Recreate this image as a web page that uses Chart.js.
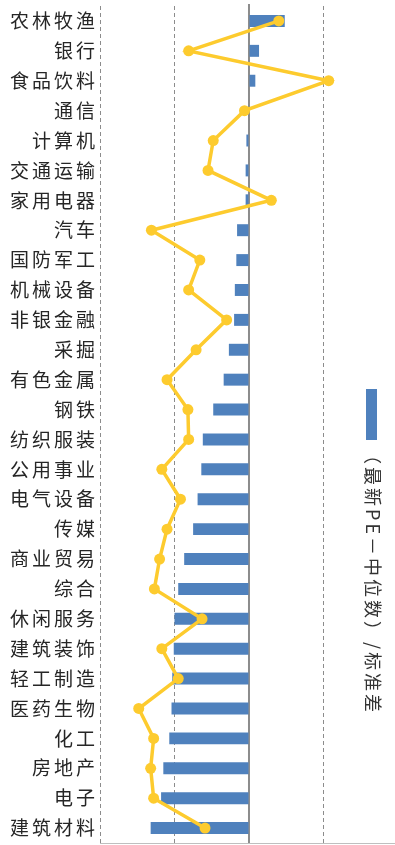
<!DOCTYPE html>
<html>
<head>
<meta charset="utf-8">
<script src="https://cdn.jsdelivr.net/npm/chart.js@4/dist/chart.umd.min.js"></script>
<style>
  html, body { margin: 0; padding: 0; background: #fff; }
  #wrap { width: 395px; height: 845px; }
</style>
</head>
<body>
<div id="wrap"><canvas id="peChart"></canvas></div>
<script>
const industries = [
  "农林牧渔", "银行", "食品饮料", "通信", "计算机", "交通运输", "家用电器",
  "汽车", "国防军工", "机械设备", "非银金融", "采掘", "有色金属", "钢铁",
  "纺织服装", "公用事业", "电气设备", "传媒", "商业贸易", "综合", "休闲服务",
  "建筑装饰", "轻工制造", "医药生物", "化工", "房地产", "电子", "建筑材料"
];
// (latest PE - median) / std, bars
const peDeviation = [
  0.48, 0.135, 0.085, -0.01, -0.035, -0.045, -0.045,
  -0.16, -0.17, -0.19, -0.2, -0.27, -0.34, -0.48,
  -0.62, -0.64, -0.69, -0.75, -0.87, -0.95, -1.0,
  -1.01, -1.03, -1.04, -1.07, -1.15, -1.18, -1.32
];
// comparison series, yellow line
const lineValues = [
  0.4, -0.81, 1.07, -0.06, -0.48, -0.55, 0.3,
  -1.31, -0.66, -0.81, -0.3, -0.71, -1.1, -0.82,
  -0.81, -1.17, -0.92, -1.1, -1.2, -1.27, -0.63,
  -1.17, -0.95, -1.48, -1.28, -1.32, -1.28, -0.59
];
const barLabel = "（最新PE－中位数）/标准差";

const BLUE = "#4F81BD";
const GOLD = "#FDCB2E";
const GRID = "#8c8c8c";

// wider character spacing for the CJK labels
const spacing = {
  id: "spacing",
  beforeLayout(chart) { chart.ctx.letterSpacing = "3px"; }
};

// solid line at x = 0
const zeroLine = {
  id: "zeroLine",
  beforeDatasetsDraw(chart) {
    const { ctx, chartArea, scales } = chart;
    const x = scales.x.getPixelForValue(0);
    ctx.save();
    ctx.strokeStyle = GRID;
    ctx.lineWidth = 2;
    ctx.beginPath();
    ctx.moveTo(x, chartArea.top - 2);
    ctx.lineTo(x, chartArea.bottom);
    ctx.stroke();
    ctx.restore();
  }
};

// vertical legend on the right
const sideLegend = {
  id: "sideLegend",
  afterDraw(chart) {
    const { ctx } = chart;
    ctx.save();
    ctx.fillStyle = BLUE;
    ctx.fillRect(366, 389, 11, 51);
    ctx.translate(373, 446);
    ctx.rotate(Math.PI / 2);
    ctx.fillStyle = "#333";
    ctx.letterSpacing = "3px";
    ctx.font = '18px "Noto Sans CJK SC", sans-serif';
    ctx.textAlign = "left";
    ctx.textBaseline = "middle";
    ctx.fillText(barLabel, 0, 0);
    ctx.restore();
  }
};

const noPad = s => { s.paddingTop = 0; s.paddingBottom = 0; s.paddingLeft = 0; s.paddingRight = 0; };

new Chart(document.getElementById("peChart"), {
  type: "bar",
  data: {
    labels: industries,
    datasets: [
      {
        type: "line",
        label: "line",
        data: lineValues,
        borderColor: GOLD,
        backgroundColor: GOLD,
        borderWidth: 3.5,
        pointRadius: 5.5,
        pointBackgroundColor: GOLD,
        pointBorderWidth: 0,
        tension: 0,
        order: 0
      },
      {
        label: barLabel,
        data: peDeviation,
        backgroundColor: BLUE,
        barPercentage: 0.4,
        categoryPercentage: 1,
        order: 1
      }
    ]
  },
  options: {
    indexAxis: "y",
    responsive: true, maintainAspectRatio: false,
    animation: false,
    layout: { autoPadding: false, padding: { top: 6, bottom: 2, left: 0, right: 0 } },
    plugins: { legend: { display: false }, tooltip: { enabled: false } },
    scales: {
      x: {
        min: -2, max: 1.96,
        ticks: { display: false, stepSize: 1 },
        afterBuildTicks: s => { s.ticks = s.ticks.filter(t => Number.isInteger(t.value)); },
        afterFit: s => { s.height = 0; noPad(s); },
        grid: {
          drawTicks: false,
          color: c => c.tick && c.tick.value === 0 ? "transparent" : GRID,
          lineWidth: 1
        },
        border: { display: true, color: "#bfbfbf", width: 1, dash: [4, 3] }
      },
      y: {
        afterFit: s => { s.width = 100; noPad(s); },
        grid: { display: false, drawTicks: false },
        border: { display: false },
        ticks: {
          color: "#262626",
          padding: 2,
          autoSkip: false,
          font: { family: '"Noto Sans CJK SC", sans-serif', size: 19 }
        }
      }
    }
  },
  plugins: [spacing, zeroLine, sideLegend]
});
</script>
</body>
</html>
